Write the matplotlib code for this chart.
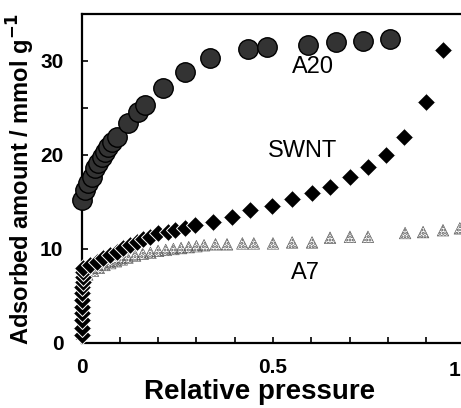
import matplotlib
matplotlib.use('Agg')
import matplotlib.pyplot as plt
from matplotlib.ticker import MultipleLocator, FixedLocator, FixedFormatter

plt.rcParams['font.family'] = ['Liberation Sans', 'DejaVu Sans']
plt.rcParams['hatch.linewidth'] = 1.5
plt.rcParams['hatch.color'] = '#222222'

# A20 (circles)
a20_x = [0.001, 0.009, 0.017, 0.027, 0.035, 0.043, 0.054, 0.061, 0.069, 0.080,
         0.093, 0.121, 0.147, 0.166, 0.213, 0.270, 0.336, 0.435, 0.484, 0.591,
         0.664, 0.735, 0.805]
a20_y = [15.2, 16.3, 17.0, 17.7, 18.6, 19.1, 19.8, 20.3, 20.9, 21.4,
         21.9, 23.4, 24.6, 25.3, 27.1, 28.8, 30.3, 31.3, 31.5, 31.7,
         32.0, 32.1, 32.3]

# SWNT (diamonds)
swnt_x = [0.000, 0.000, 0.001, 0.001, 0.001, 0.002, 0.002, 0.002, 0.003, 0.003,
          0.003, 0.004, 0.022, 0.040, 0.056, 0.074, 0.093, 0.108, 0.127, 0.145,
          0.161, 0.179, 0.200, 0.226, 0.244, 0.270, 0.296, 0.343, 0.393, 0.440,
          0.497, 0.550, 0.602, 0.649, 0.701, 0.748, 0.795, 0.842, 0.900, 0.944]
swnt_y = [0.85, 1.6, 2.4, 3.2, 3.8, 4.6, 5.3, 6.0, 6.5, 7.0,
          7.6, 8.0, 8.3, 8.6, 9.0, 9.4, 9.7, 10.1, 10.4, 10.7,
          11.1, 11.3, 11.7, 11.8, 12.0, 12.2, 12.6, 12.9, 13.4, 14.1,
          14.6, 15.3, 16.0, 16.6, 17.7, 18.7, 20.0, 21.9, 25.6, 31.2]

# A7 (triangles)
a7_x = [0.001, 0.002, 0.003, 0.006, 0.015, 0.030, 0.045, 0.060, 0.075, 0.090,
        0.105, 0.120, 0.140, 0.160, 0.180, 0.200, 0.220, 0.240, 0.260, 0.280,
        0.300, 0.320, 0.350, 0.380, 0.420, 0.450, 0.500, 0.550, 0.602, 0.649,
        0.701, 0.748, 0.845, 0.892, 0.944, 0.988]
a7_y = [1.0, 3.0, 5.0, 6.5, 7.3, 7.7, 8.0, 8.3, 8.5, 8.7,
        8.9, 9.1, 9.3, 9.5, 9.6, 9.8, 9.9, 10.0, 10.1, 10.2,
        10.3, 10.4, 10.5, 10.5, 10.6, 10.6, 10.6, 10.7, 10.7, 11.2,
        11.3, 11.3, 11.7, 11.8, 12.0, 12.2]

fig = plt.figure(figsize=(4.61, 4.08), dpi=100)
ax = fig.add_axes([81.5 / 461, 65 / 408, 379.5 / 461, 329 / 408])

ax.scatter(a7_x, a7_y, marker='^', s=70, facecolors='none',
           edgecolors='#555555', linewidths=0.4, hatch='.....', zorder=2,
           clip_on=False)
ax.plot(swnt_x, swnt_y, 'D', ms=9, mfc='black', mec='white', mew=0.7,
        zorder=3, clip_on=False)
ax.plot(a20_x, a20_y, 'o', ms=14, mfc='#333333', mec='black', mew=1.0,
        zorder=4, clip_on=False)

ax.text(0.604, 29.4, 'A20', fontsize=17, ha='center', va='center')
ax.text(0.578, 20.4, 'SWNT', fontsize=17, ha='center', va='center')
ax.text(0.586, 7.4, 'A7', fontsize=17, ha='center', va='center')

ax.set_xlim(0, 0.991)
ax.set_ylim(0, 35)
ax.spines['right'].set_visible(False)
for s in ['left', 'bottom', 'top']:
    ax.spines[s].set_linewidth(1.6)

ax.xaxis.set_major_locator(FixedLocator([0, 0.5]))
ax.xaxis.set_major_formatter(FixedFormatter(['0', '0.5']))
ax.xaxis.set_minor_locator(MultipleLocator(0.1))
ax.yaxis.set_major_locator(MultipleLocator(10))
ax.yaxis.set_minor_locator(MultipleLocator(5))
ax.tick_params(which='both', direction='in', length=4, width=1.2)
ax.tick_params(axis='x', which='major', pad=11, labelsize=15)
ax.tick_params(axis='y', which='major', pad=13, labelsize=15)
for lab in ax.get_xticklabels() + ax.get_yticklabels():
    lab.set_fontweight('bold')
# tick label "1" sits right at the edge of the picture
ax.text(0.99, -0.055, '1', transform=ax.get_xaxis_transform(), fontsize=15,
        fontweight='bold', ha='right', va='top', clip_on=False)

ax.set_xlabel('Relative pressure', fontsize=20, fontweight='bold')
ax.xaxis.set_label_coords(0.47, -0.11)
ax.set_ylabel('Adsorbed amount / mmol g$^{\\mathbf{-1}}$', fontsize=17, fontweight='bold')
ax.yaxis.set_label_coords(-0.117, 0.5)

fig.savefig('out.png', dpi=100)
